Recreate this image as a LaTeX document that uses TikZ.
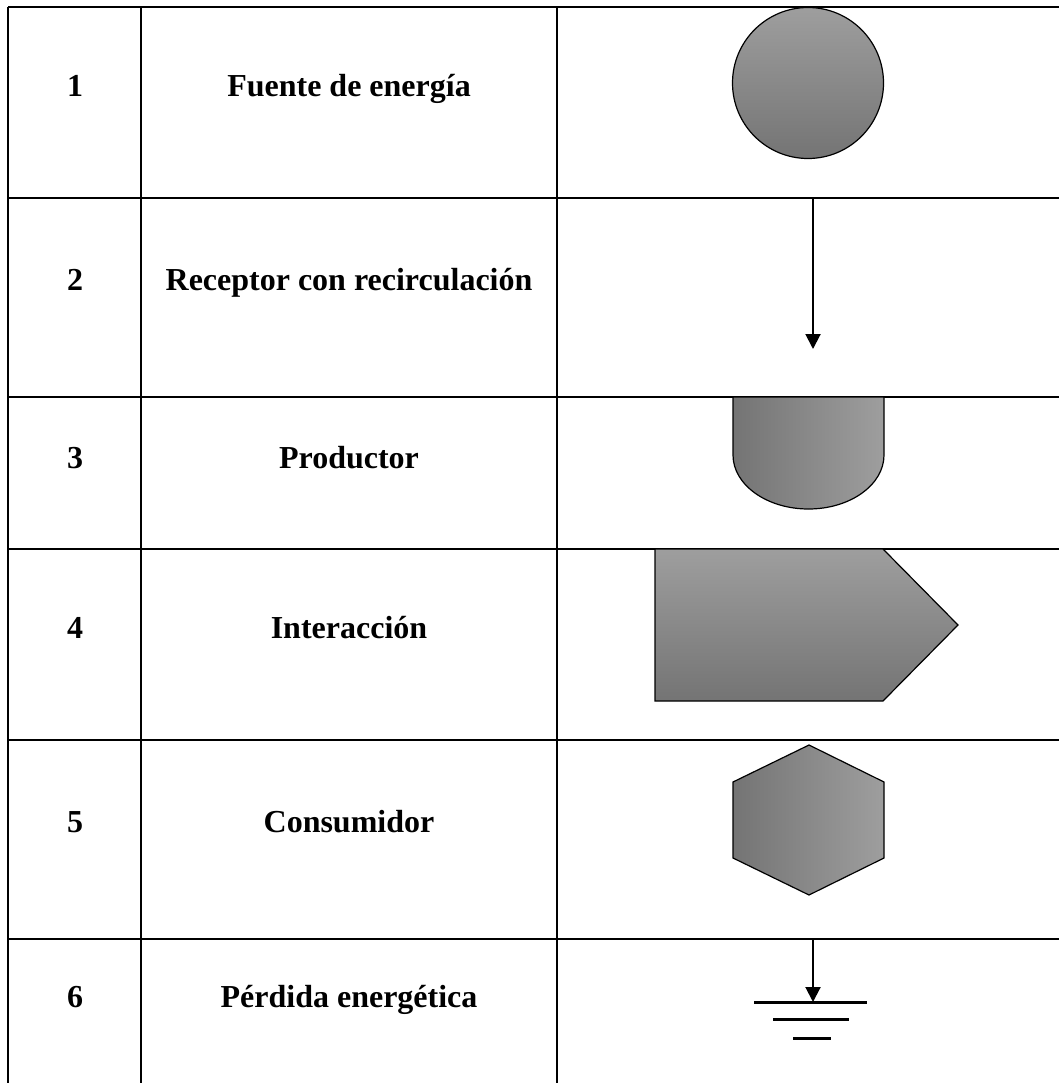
\documentclass[tikz,border=0pt]{standalone}
\usepackage{fontspec}
\setmainfont{Liberation Serif}
\usetikzlibrary{arrows.meta}
\definecolor{gl}{RGB}{158,158,158}
\definecolor{gd}{RGB}{116,116,116}
\begin{document}
\begin{tikzpicture}[x=1pt,y=-1pt,
  grid/.style={line width=2pt,black},
  lbl/.style={font=\fontsize{32}{36}\selectfont\bfseries, anchor=base, inner sep=0pt},
  fig/.style={draw=black, line width=1.2pt},
  arr/.style={line width=2pt, -{Triangle[width=15pt,length=15pt]}},
  gnd/.style={line width=3pt}]
\fill[white] (0,0) rectangle (1059,1083);
\useasboundingbox (0,0) rectangle (1059,1083);
% table grid
\draw[grid] (8,7) -- (1059,7);
\foreach \y in {198,397,549,740,939} \draw[grid] (8,\y) -- (1059,\y);
\foreach \x in {8,141,557} \draw[grid] (\x,7) -- (\x,1083);
% numbers and labels
\node[lbl] (n1) at (75,97) {1};
\node[lbl] (t1) at (349,97) {Fuente de energía};
\node[lbl] (n2) at (75,290) {2};
\node[lbl] (t2) at (349,290) {Receptor con recirculación};
\node[lbl] (n3) at (75,468) {3};
\node[lbl] (t3) at (349,468) {Productor};
\node[lbl] (n4) at (75,638) {4};
\node[lbl] (t4) at (349,638) {Interacción};
\node[lbl] (n5) at (75,832) {5};
\node[lbl] (t5) at (349,832) {Consumidor};
\node[lbl] (n6) at (75,1007) {6};
\node[lbl] (t6) at (349,1007) {Pérdida energética};
% 1 source
\shade[fig, top color=gl, bottom color=gd] (808,83) circle[radius=75.5];
% 2 arrow
\coordinate (a2s) at (813,198);
\coordinate (a2e) at (813,349);
\draw[arr] (a2s) -- (a2e);
% 3 producer
\shade[fig, left color=gd, right color=gl]
  (733,397) -- (733,455) .. controls (733,484.8) and (766.8,509) .. (808.5,509)
  .. controls (850.2,509) and (884,484.8) .. (884,455) -- (884,397) -- cycle;
% 4 interaction
\shade[fig, top color=gl, bottom color=gd]
  (655,549) -- (883,549) -- (958,625) -- (883,701) -- (655,701) -- cycle;
% 5 consumer
\shade[fig, left color=gd, right color=gl]
  (809,745) -- (884,782) -- (884,858) -- (809,895) -- (733,858) -- (733,782) -- cycle;
% 6 loss
\coordinate (a6s) at (813,939);
\coordinate (a6e) at (813,1002);
\draw[arr] (a6s) -- (a6e);
\draw[gnd] (754,1002) -- (867,1002);
\draw[gnd] (773,1019) -- (849,1019);
\draw[gnd] (793,1038) -- (831,1038);
\end{tikzpicture}
\end{document}
